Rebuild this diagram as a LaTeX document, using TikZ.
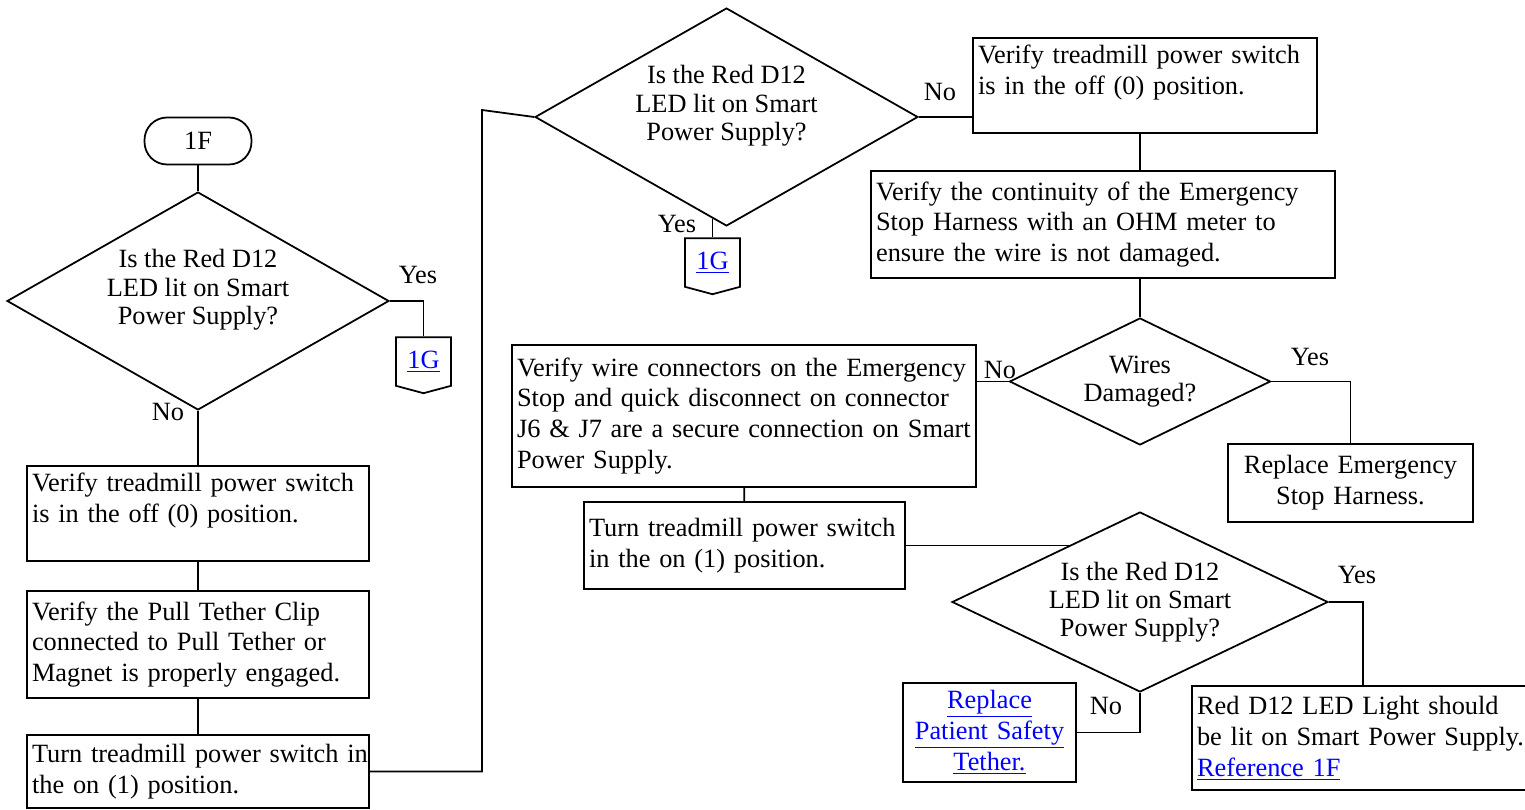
\documentclass[tikz,border=0pt]{standalone}
\usepackage{fontspec}
\setmainfont{Liberation Serif}
\usepackage{xcolor}
\usetikzlibrary{shapes,arrows,positioning}
\newcommand{\lnk}[1]{\textcolor{blue}{\underline{#1}}}

\begin{document}
\begin{tikzpicture}[x=0.02cm, y=-0.02cm, line width=1pt,
  font=\fontsize{15}{17.6}\selectfont,
  startstop/.style={rectangle, rounded corners=0.45cm, draw=black, minimum width=2.14cm, minimum height=0.94cm},
  process/.style={rectangle, draw=black, align=left, inner xsep=0.1cm, inner ysep=0pt},
  result/.style={rectangle, draw=black, align=center, inner xsep=0.1cm, inner ysep=0pt},
  decision/.style={diamond, draw=black, align=center, inner sep=0pt, font=\fontsize{15}{16}\selectfont},
  offpage/.style={signal, signal to=south, signal pointer angle=150, draw=black, inner sep=0pt, minimum width=1.1cm, minimum height=1.06cm}]

  \useasboundingbox (0,0) rectangle (1525,810);

  \node (start) [startstop] at (198,141) {1F};
  \node (d1) [decision, aspect=1.75, minimum width=7.64cm, minimum height=4.36cm] at (198,301) {Is the Red D12\\ LED lit on Smart\\ Power Supply?\\ \mbox{}};
  \node (c1) [offpage] at (423.5,361.5) {\lnk{1G}};
  \node (v1) [process, text width=6.64cm, minimum height=1.9cm] at (198,513.5) {Verify treadmill power switch\\ is in the off (0) position.\\ \mbox{}};
  \node (v2) [process, text width=6.64cm, minimum height=2.14cm] at (198,644.5) {Verify the Pull Tether Clip\\ connected to Pull Tether or\\ Magnet is properly engaged.};
  \node (v3) [process, text width=6.64cm, minimum height=1.46cm] at (198,771.5) {\mbox{Turn treadmill power switch in}\\ the on (1) position.};
  \coordinate (bend) at (482,110);

  \node (d2) [decision, aspect=1.76, minimum width=7.66cm, minimum height=4.36cm] at (726.5,117) {Is the Red D12\\ LED lit on Smart\\ Power Supply?\\ \mbox{}};
  \node (c2) [offpage] at (712.5,262.5) {\lnk{1G}};
  \node (r1) [process, text width=6.68cm, minimum height=1.9cm] at (1145,85.5) {Verify treadmill power switch\\ is in the off (0) position.\\ \mbox{}};
  \node (r2) [process, text width=9.08cm, minimum height=2.14cm] at (1103,224.5) {Verify the continuity of the Emergency\\ Stop Harness with an OHM meter to\\ ensure the wire is not damaged.};
  \node (d3) [decision, aspect=2.05, minimum width=5.22cm, minimum height=2.54cm] at (1140,381.5) {Wires\\ Damaged?};
  \node (wirecon) [process, text width=9.08cm, minimum height=2.84cm] at (744,416) {Verify wire connectors on the Emergency\\ Stop and quick disconnect on connector\\ J6 \& J7 are a secure connection on Smart\\ Power Supply.};
  \node (harness) [result, text width=4.7cm, minimum height=1.56cm] at (1350.5,483) {Replace Emergency\\ Stop Harness.};
  \node (turnon2) [process, text width=6.22cm, minimum height=1.74cm] at (744.5,545.5) {Turn treadmill power switch\\ in the on (1) position.};
  \node (d4) [decision, aspect=2.09, minimum width=7.52cm, minimum height=3.6cm] at (1140,602) {Is the Red D12\\ LED lit on Smart\\ Power Supply?};
  \coordinate (j4) at (1363,602);
  \node (redlit) [process, text width=6.48cm, minimum height=2.08cm] at (1359,738) {Red D12 LED Light should\\ \mbox{be lit on Smart Power Supply.}\\ \lnk{Reference 1F}};
  \node (tether) [result, text width=3.26cm, minimum height=1.98cm] at (989.5,732.5) {\lnk{Replace}\\ \lnk{Patient Safety}\\ \lnk{Tether.}};

  \node (yes1) at (418,275) {Yes};
  \node (no1) at (168,412) {No};
  \node (yes2) at (677,224) {Yes};
  \node (no2) at (940,92) {No};
  \node (no3) at (1000,370) {No};
  \node (yes3) at (1310,357) {Yes};
  \node (yes4) at (1357,575) {Yes};
  \node (no4) at (1106,706) {No};

  \draw (start) -- (d1);
  \draw (d1.east) -| (c1.north);
  \draw (d1) -- (v1);
  \draw (v1) -- (v2);
  \draw (v2) -- (v3);
  \draw (v3.east) -| (bend) -- (d2.west);
  \draw (c2.north) -- (c2.north |- d2.262);
  \draw (d2.east) -- (d2.east -| r1.west);
  \draw (r1.south -| d3.north) -- (r2.north -| d3.north);
  \draw (r2.south -| d3.north) -- (d3);
  \draw (d3.west) -- (d3.west -| wirecon.east);
  \draw (d3.east) -| (harness.north);
  \draw (wirecon) -- (turnon2);
  \draw (turnon2.east) -- (turnon2.east -| d4.141);
  \draw (d4.east) -- (j4) -- (j4 |- redlit.north);
  \draw (d4.south) |- (tether.east);
\end{tikzpicture}
\end{document}
